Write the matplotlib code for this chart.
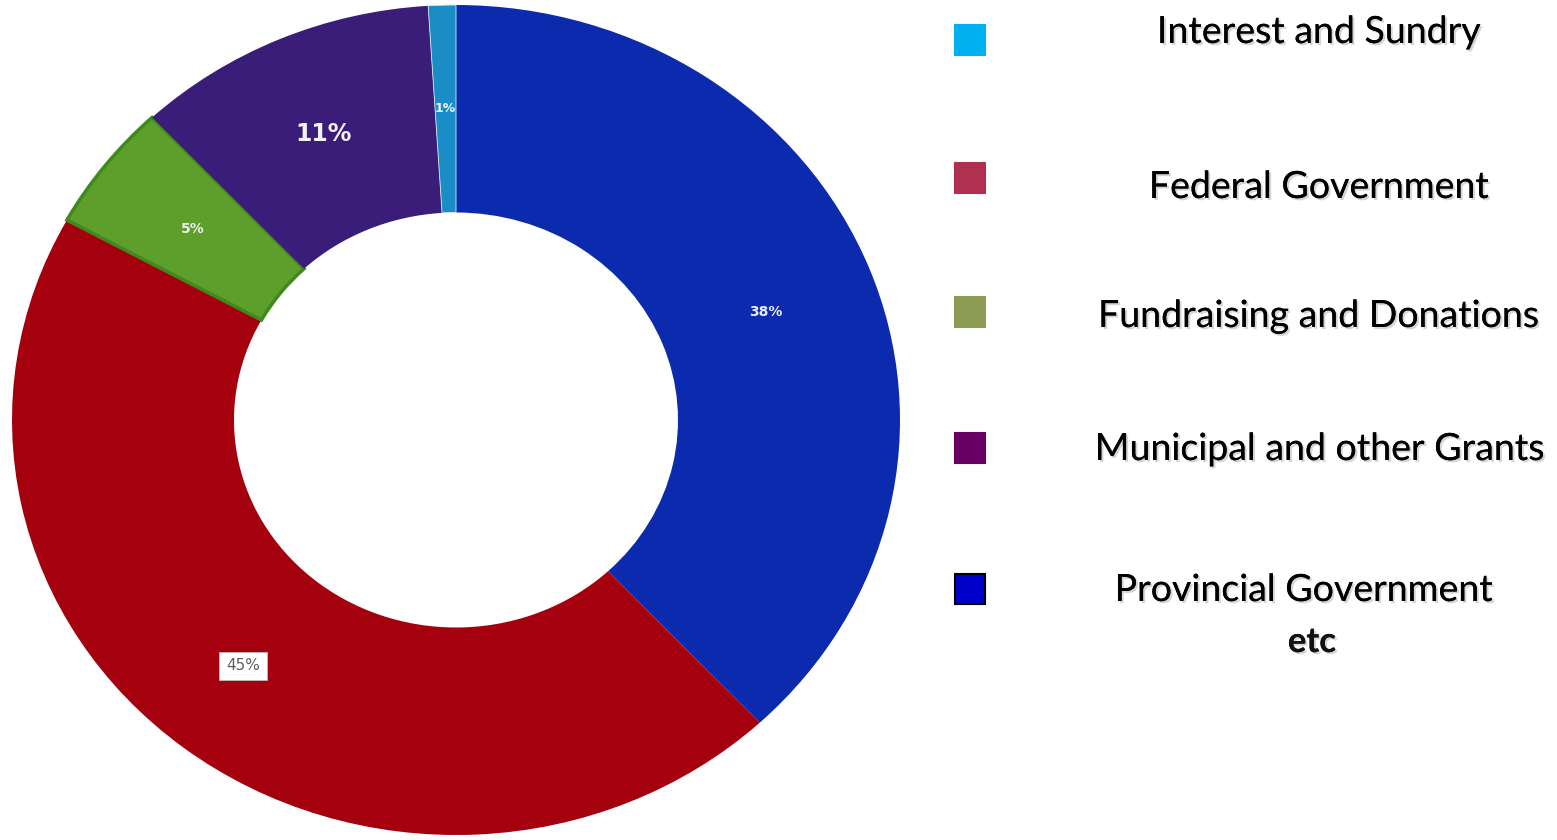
import matplotlib
matplotlib.use("Agg")
import matplotlib.pyplot as plt
import matplotlib.patheffects as pe
from matplotlib.patches import Rectangle

# donut slices, clockwise from 12 o'clock
slice_names = ["Provincial Government", "Federal Government", "Fundraising and Donations",
               "Municipal and other Grants", "Interest and Sundry"]
slice_values = [38, 45, 5, 11, 1]
slice_colors = ["#0b2aae", "#a4000e", "#5e9f2c", "#3a1d78", "#1a8dc6"]

# legend, top to bottom
legend_labels = ["Interest and Sundry", "Federal Government", "Fundraising and Donations",
                 "Municipal and other Grants", "Provincial Government"]
legend_colors = ["#00b0f0", "#b0304f", "#8c9c52", "#660066", "#0000cc"]
legend_note = "etc"

W, H = 1557, 840
fig = plt.figure(figsize=(W / 100, H / 100), dpi=100)
fig.patch.set_facecolor("white")

# pie axes in pixel box (scan is slightly squashed vertically)
x0, x1, y0, y1 = 12, 900, 5, 835
ax = fig.add_axes([x0 / W, 1 - y1 / H, (x1 - x0) / W, (y1 - y0) / H])
wedges, texts, autotexts = ax.pie(
    slice_values, colors=slice_colors, startangle=90, counterclock=False,
    radius=1.0, wedgeprops=dict(width=0.5, linewidth=0),
    autopct=lambda p: "%d%%" % round(p), pctdistance=0.75,
)
wedges[2].set_edgecolor("#3f8a1c")
wedges[2].set_linewidth(2.5)
wedges[4].set_edgecolor("#d8e8f4")
wedges[4].set_linewidth(0.6)
ax.set_aspect("auto")
ax.set_xlim(-1, 1)
ax.set_ylim(-1, 1)
ax.axis("off")

pct_styles = [
    dict(color="#e8eef8", fontsize=10, fontweight="bold"),
    dict(color="#606060", fontsize=11,
         bbox=dict(boxstyle="square,pad=0.45", fc="white", ec="#bbbbbb", lw=0.6)),
    dict(color="#f0f0f0", fontsize=10, fontweight="bold"),
    dict(color="#f2f2f2", fontsize=17, fontweight="bold"),
    dict(color="#e8f4fa", fontsize=9, fontweight="bold"),
]
for t, st in zip(autotexts, pct_styles):
    t.set(**st)
autotexts[0].set_y(autotexts[0].get_position()[1] - 0.015)
autotexts[1].set_x(autotexts[1].get_position()[0] - 0.02)

# legend drawn by hand
fam = ["Lato", "DejaVu Sans"]
shadow = [pe.withSimplePatchShadow(offset=(1.5, -1.5), shadow_rgbFace="#888888", alpha=0.35),
          pe.Normal()]
box_y = [40, 178, 312, 448, 589]
text_base = [43, 198, 327, 460, 601]
text_cx = [1319, 1319, 1319, 1320, 1304]
for lab, col, by, ty, cx in zip(legend_labels, legend_colors, box_y, text_base, text_cx):
    edge = "black" if col == "#0000cc" else col
    fig.patches.append(Rectangle(((955) / W, 1 - (by + 15) / H), 30 / W, 30 / H,
                                 transform=fig.transFigure, fc=col, ec=edge, lw=1.5))
    fig.text(cx / W, 1 - ty / H, lab, ha="center", va="baseline", fontsize=27,
             family=fam, color="black", path_effects=shadow)
fig.text(1312 / W, 1 - 652 / H, legend_note, ha="center", va="baseline", fontsize=25,
         family=fam, fontweight="bold", color="#111111", path_effects=shadow)

fig.savefig("out.png", dpi=100, facecolor="white")
